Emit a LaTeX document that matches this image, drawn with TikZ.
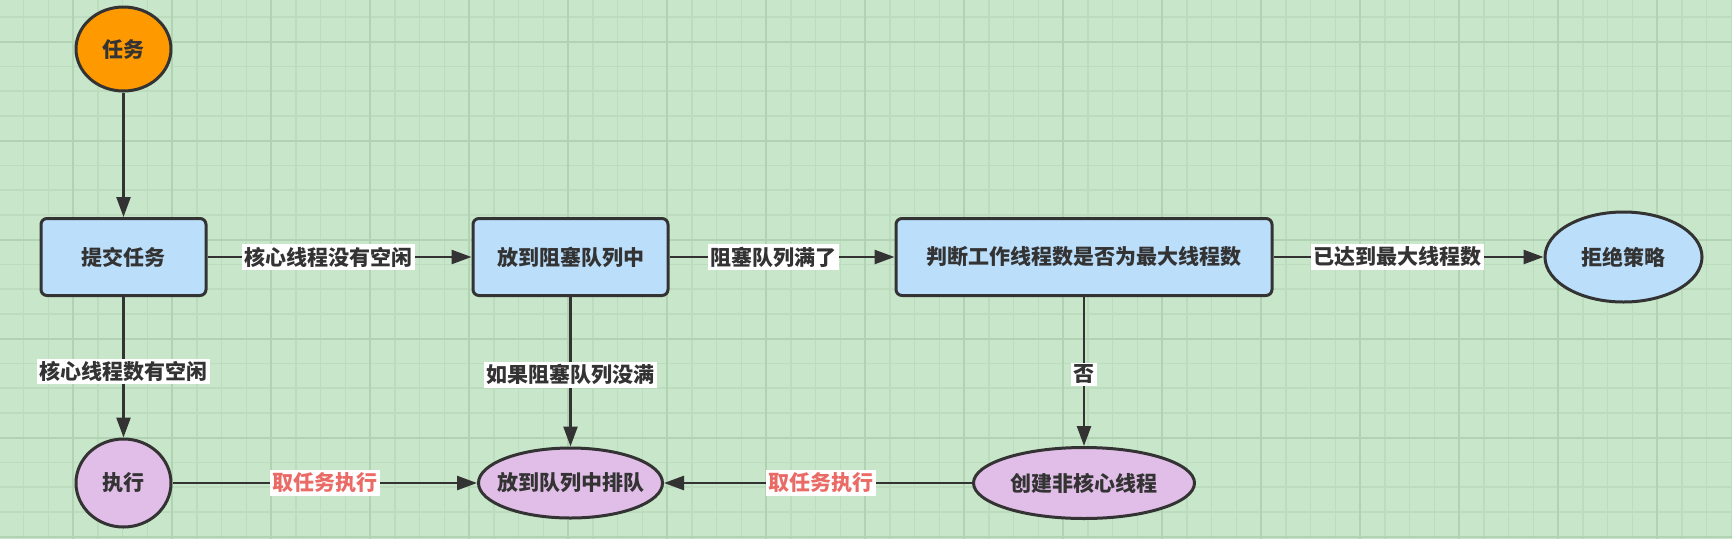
\documentclass[tikz,border=0pt]{standalone}
\usepackage{fontspec}
\setmainfont{Noto Sans CJK SC}
\usetikzlibrary{shapes.geometric,arrows.meta}
\definecolor{bggreen}{HTML}{C8E6C9}
\definecolor{gridminor}{HTML}{BCDCBD}
\definecolor{gridmajor}{HTML}{B2D3B3}
\definecolor{boxblue}{HTML}{BBDEFB}
\definecolor{taskorange}{HTML}{FF9900}
\definecolor{runpurple}{HTML}{E1BEE7}
\definecolor{darkline}{HTML}{333333}
\definecolor{labelred}{HTML}{EA6B66}
\begin{document}
\begin{tikzpicture}[x=1pt, y=-1pt, line join=round, >={Triangle[length=20pt,width=14pt]},
		font=\fontsize{21}{25}\selectfont\bfseries,
		every node/.style={text=darkline},
		stepbox/.style={draw=darkline, line width=3pt, rounded corners=6pt, fill=boxblue, minimum height=77pt},
		oval/.style={ellipse, draw=darkline, line width=3pt, inner xsep=-20pt, inner ysep=0pt},
		flow/.style={draw=darkline, line width=2.5pt, ->},
		tag/.style={fill=white, inner sep=2.5pt}]
		\def\W{1732} \def\H{539}
		\useasboundingbox (0,0) rectangle (\W,\H);
		\fill[bggreen] (0,0) rectangle (\W,\H);
		% grid
		\foreach \i in {1,...,70} \draw[gridminor, line width=1.5pt] ({-1.25+24.75*\i},0) -- ++(0,\H);
		\foreach \j in {1,...,22} \draw[gridminor, line width=1.5pt] (0,{-7.8+24.75*\j}) -- ++(\W,0);
		\foreach \i in {0,...,16} \draw[gridmajor, line width=2pt] ({73+99*\i},0) -- ++(0,\H);
		\foreach \j in {0,...,5} \draw[gridmajor, line width=2pt] (0,{41.7+99*\j}) -- ++(\W,0);
		% nodes
		\node[oval, fill=taskorange, minimum width=95pt, minimum height=84pt] (task) at (123.5,49) {任务};
		\node[stepbox, minimum width=165pt] (submit) at (123.5,257) {提交任务};
		\node[stepbox, minimum width=195pt] (block) at (570.5,257) {放到阻塞队列中};
		\node[stepbox, minimum width=376pt] (judge) at (1084,257) {判断工作线程数是否为最大线程数};
		\node[oval, fill=boxblue, minimum width=157pt, minimum height=90pt] (reject) at (1623.5,257) {拒绝策略};
		\node[oval, fill=runpurple, minimum width=95pt, minimum height=88pt] (run) at (123.5,483) {执行};
		\node[oval, fill=runpurple, minimum width=184pt, minimum height=70pt] (wait) at (570.5,483) {放到队列中排队};
		\node[oval, fill=runpurple, minimum width=221pt, minimum height=71pt] (spare) at (1084,483) {创建非核心线程};
		% connectors
		\draw[flow] (task) -- (submit);
		\draw[flow] (submit) -- node[tag, pos=.46]{核心线程没有空闲} (block);
		\draw[flow] (block) -- node[tag, pos=.46]{阻塞队列满了} (judge);
		\draw[flow] (judge) -- node[tag, pos=.46]{已达到最大线程数} (reject);
		\draw[flow] (submit) -- node[tag, pos=.53]{核心线程数有空闲} (run);
		\draw[flow] (block) -- node[tag, pos=.52]{如果阻塞队列没满} (wait);
		\draw[flow] (judge) -- node[tag, pos=.52]{否} (spare);
		\draw[flow] (run) -- node[tag, pos=.5, text=labelred]{取任务执行} (wait);
		\draw[flow] (spare) -- node[tag, pos=.49, text=labelred]{取任务执行} (wait);
	\end{tikzpicture}
\end{document}
